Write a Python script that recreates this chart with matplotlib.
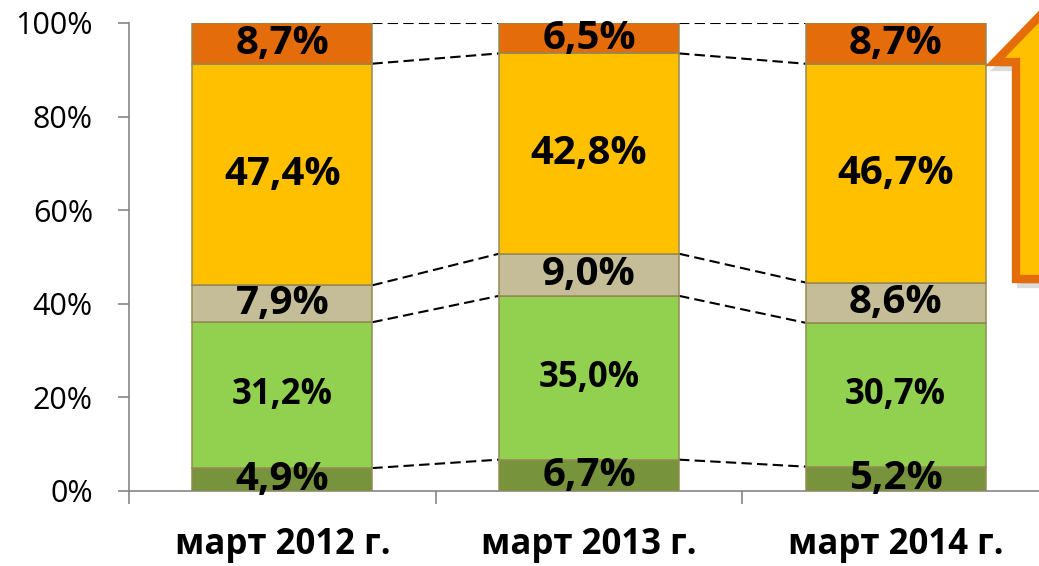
import numpy as np
import matplotlib.pyplot as plt
from matplotlib.patches import Polygon

plt.rcParams['font.family'] = ['Open Sans', 'DejaVu Sans']

# categories and shares (%), bottom to top
categories = ['март 2012 г.', 'март 2013 г.', 'март 2014 г.']
s_dark_green = [4.9, 6.7, 5.2]
s_light_green = [31.2, 35.0, 30.7]
s_tan = [7.9, 9.0, 8.6]
s_yellow = [47.4, 42.8, 46.7]
s_orange = [8.7, 6.5, 8.7]

series = [s_dark_green, s_light_green, s_tan, s_yellow, s_orange]
colors = ['#77933C', '#92D050', '#C4BD97', '#FFC000', '#E46C0A']
label_sizes = [29, 25, 29, 29, 29]

W, H = 1039, 566
fig = plt.figure(figsize=(W / 100, H / 100), dpi=100)
ax = fig.add_axes([129 / W, 75 / H, 920 / W, 468 / H])

vals = np.array(series, dtype=float)
shares = vals / vals.sum(axis=0) * 100  # 100% stacked
x = np.arange(len(categories))
bw = 0.587

bottom = np.zeros(len(categories))
for i, (sh, raw) in enumerate(zip(shares, vals)):
    ax.bar(x, sh, bw, bottom=bottom, color=colors[i], edgecolor='#948A54',
           linewidth=1.1, zorder=3)
    for xi, b, h, r in zip(x, bottom, sh, raw):
        ax.text(xi, b + h / 2, f'{r:.1f}%'.replace('.', ','), ha='center',
                va='center', fontsize=label_sizes[i], fontweight='bold',
                color='black', zorder=5)
    bottom = bottom + sh

# dashed connector lines between bars at each boundary
cum = np.cumsum(shares, axis=0)
for row in cum:
    for j in range(len(categories) - 1):
        ax.plot([x[j] + bw / 2, x[j + 1] - bw / 2], [row[j], row[j + 1]],
                ls=(0, (5, 2.5)), color='black', lw=1.5, zorder=2)

ax.set_xlim(-0.5, 2.5)
ax.set_ylim(0, 100)
ax.set_yticks(np.arange(0, 101, 20))
ax.set_yticklabels([f'{v}%' for v in range(0, 101, 20)], fontsize=22)
ax.set_xticks(x)
ax.set_xticklabels(categories, fontsize=25, fontweight='bold')
ax.set_xticks(np.arange(-0.5, 2.6, 1), minor=True)
ax.tick_params(axis='x', which='major', length=0, pad=26)
ax.tick_params(axis='x', which='minor', length=9, width=1.2, color='#868686')
ax.tick_params(axis='y', length=8, width=1.2, color='#868686', pad=18)
for side in ['top', 'right']:
    ax.spines[side].set_visible(False)
for side in ['left', 'bottom']:
    ax.spines[side].set_color('#868686')
    ax.spines[side].set_linewidth(1.2)

# decorative arrow at the right edge, clipped by the figure
pts = [(1016, 279), (1016, 62), (995, 62), (1060, -5), (1125, 62),
       (1104, 62), (1104, 279)]
shadow = [((px + 5) / W, 1 - (py + 5) / H) for px, py in pts]
arrow = [(px / W, 1 - py / H) for px, py in pts]
fig.patches.append(Polygon(shadow, closed=True, transform=fig.transFigure,
                           facecolor='#BBBBBB', edgecolor='#BBBBBB', lw=6,
                           alpha=0.5, zorder=8))
fig.patches.append(Polygon(arrow, closed=True, transform=fig.transFigure,
                           facecolor='#FFC000', edgecolor='#E46C0A', lw=6,
                           joinstyle='miter', zorder=9))

fig.savefig('out.png', dpi=100)
